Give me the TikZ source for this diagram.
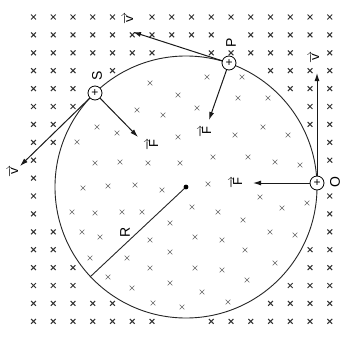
\documentclass[tikz,border=0pt]{standalone}
\usepackage{fontspec}
\setmainfont{Liberation Sans}
\usetikzlibrary{arrows.meta}
\begin{document}
\begin{tikzpicture}[x=1pt,y=-1pt,
  crossline/.style={line width=1pt, black!80},
  incross/.style={line width=0.6pt, black!60},
  vecarrow/.style={line width=1pt, black!90, -{Latex[length=8pt,width=5pt]}},
  charge/.style={circle, draw, line width=0.8pt, minimum size=14pt, inner sep=0pt, fill=white, font=\fontsize{12}{12}\selectfont},
  lbl/.style={rotate=90, font=\fontsize{14}{14}\selectfont, inner sep=0pt},
  vlbl/.style={rotate=90, font=\fontsize{13}{13}\selectfont, inner sep=0pt},
]
\useasboundingbox[fill=white] (0,0) rectangle (350,337);

% regular grid of crosses outside the field circle
\foreach \i in {0,...,15}{
  \foreach \j in {0,...,17}{
    \pgfmathsetmacro\xx{33.5+19.75*\i}
    \pgfmathsetmacro\yy{17+17.9*\j}
    \pgfmathtruncatemacro\ok{(veclen((\xx-186)/10,(\yy-187)/10)>13.6) && (veclen((\xx-128)/10,(\yy-19)/10)>0.9) && (veclen((\xx-314)/10,(\yy-57)/10)>0.9) && (veclen((\xx-97)/10,(\yy-76)/10)>0.9) && (veclen((\xx-230)/10,(\yy-43)/10)>0.9) && (veclen((\xx-335)/10,(\yy-182)/10)>0.9) && (veclen((\xx-95)/10,(\yy-93)/10)>0.9) && (veclen((\xx-229)/10,(\yy-63)/10)>0.9) ? 1 : 0}
    \ifnum\ok=1
      \draw[crossline] (\xx-2.4,\yy-2.4)--(\xx+2.4,\yy+2.4) (\xx-2.4,\yy+2.4)--(\xx+2.4,\yy-2.4);
    \fi
  }
}

% scattered crosses inside the circle
\foreach \xx/\yy in {150/83,137/110,163/115,97/127,117/133,77/142,95/163,120/162,148/163,
  207/77,242/77,178/95,238/98,268/98,197/108,263/127,178/137,235/135,288/135,213/157,248/157,275/162,300/165,180/163,
  83/188,108/186,135/185,162/190,72/212,95/213,122/212,142/212,82/232,100/237,150/240,170/223,90/258,127/258,150/268,170/252,108/277,132/288,153/303,170/283,
  208/184,260/197,282/208,307/203,192/207,218/212,243/220,270/232,295/235,195/237,222/240,245/250,275/263,195/268,222/270,247/280,202/292,228/302,182/307}{
  \draw[incross] (\xx-2.3,\yy-2.3)--(\xx+2.3,\yy+2.3) (\xx-2.3,\yy+2.3)--(\xx+2.3,\yy-2.3);
}

% field circle and radius
\coordinate (c) at (186,187);
\draw[line width=0.9pt, black!85] (c) circle (131pt);
\coordinate (rend) at (90,277);
\draw[line width=0.9pt, black!85] (c) -- (rend);
\fill (c) circle (2.4pt);
\node[lbl] (lR) at (125,232) {R};

% charges
\node[charge] (O) at (317,183) {+};
\node[charge] (P) at (229,63) {+};
\node[charge] (S) at (95,93) {+};
\node[lbl] (lO) at (335,182) {O};
\node[lbl] (lP) at (231,43) {P};
\node[lbl] (lS) at (97,76) {S};

% velocities
\coordinate (vO) at (317,73);
\coordinate (vP) at (133,32);
\coordinate (vS) at (20,166);
\draw[vecarrow] (O) -- (vO);
\draw[vecarrow] (P) -- (vP);
\draw[vecarrow] (S) -- (vS);
\node[vlbl] (lvO) at (314,57) {$\overrightarrow{\mbox{v}}$};
\node[vlbl] (lvP) at (128,19) {$\overrightarrow{\mbox{v}}$};
\node[vlbl] (lvS) at (13,171) {$\overrightarrow{\mbox{v}}$};

% forces
\coordinate (fO) at (253,183);
\coordinate (fP) at (209,120);
\coordinate (fS) at (138,137);
\draw[vecarrow] (O) -- (fO);
\draw[vecarrow] (P) -- (fP);
\draw[vecarrow] (S) -- (fS);
\node[vlbl] (lfO) at (236,182) {$\overrightarrow{\mbox{F}}$};
\node[vlbl] (lfP) at (205,131) {$\overrightarrow{\mbox{F}}$};
\node[vlbl] (lfS) at (152,144) {$\overrightarrow{\mbox{F}}$};
\end{tikzpicture}
\end{document}
